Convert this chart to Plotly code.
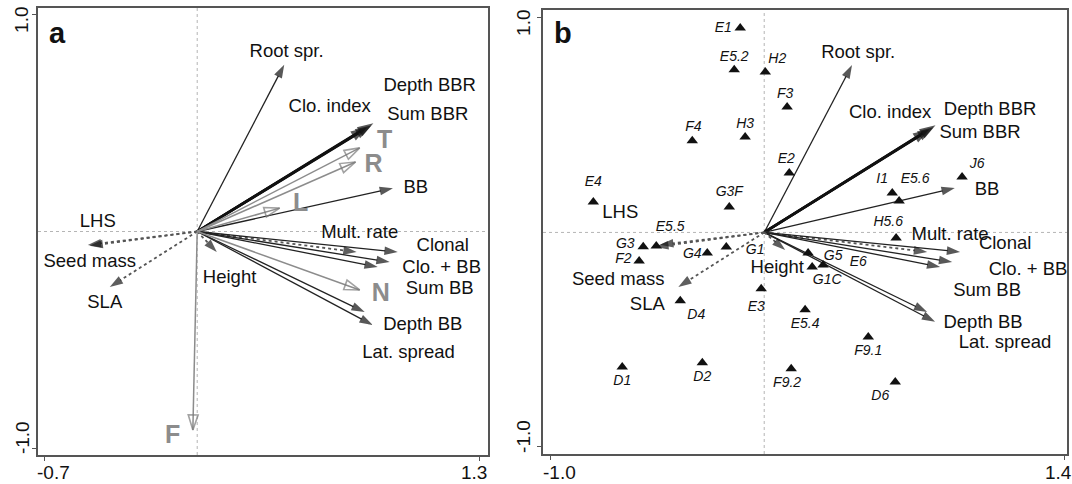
import plotly.graph_objects as go

# ---------------- data ----------------
# Trait vectors (shared names), panel a
trait_names = ["Root spr.", "Depth BBR", "Sum BBR", "Clo. index", "BB", "Mult. rate", "Clonal",
               "Clo. + BB", "Sum BB", "Depth BB", "Lat. spread", "LHS", "Seed mass", "SLA", "Height"]
a_trait_x = [0.40, 0.81, 0.80, 0.78, 0.90, 0.733, 0.922, 0.885, 0.83, 0.770, 0.807, -0.503, -0.495, -0.402, 0.09]
a_trait_y = [0.77, 0.50, 0.49, 0.48, 0.20, -0.095, -0.095, -0.141, -0.164, -0.372, -0.432, -0.062, -0.066, -0.256, -0.095]
a_label_x = [0.411, 1.069, 1.060, 0.609, 1.005, 0.747, 1.129, 1.124, 1.115, 1.037, 0.972, -0.457, -0.494, -0.425, 0.149]
a_label_y = [0.829, 0.672, 0.538, 0.575, 0.201, -0.007, -0.067, -0.169, -0.266, -0.432, -0.561, 0.044, -0.141, -0.330, -0.215]

# Ellenberg indicator vectors, panel a
env_names = ["T", "R", "L", "N", "F"]
env_x = [0.747, 0.728, 0.379, 0.747, -0.02]
env_y = [0.386, 0.321, 0.108, -0.270, -0.917]
env_label_x = [0.862, 0.811, 0.476, 0.844, -0.113]
env_label_y = [0.413, 0.303, 0.122, -0.293, -0.949]

# Trait vectors, panel b
b_trait_x = [0.41, 0.80, 0.79, 0.77, 0.89, 0.761, 0.915, 0.878, 0.822, 0.761, 0.798, -0.486, -0.509, -0.401, 0.098]
b_trait_y = [0.78, 0.50, 0.49, 0.48, 0.207, -0.091, -0.091, -0.138, -0.161, -0.371, -0.417, -0.058, -0.068, -0.254, -0.082]
b_label_x = [0.439, 1.055, 1.008, 0.588, 1.041, 0.868, 1.125, 1.232, 1.041, 1.022, 1.125, -0.672, -0.682, -0.546, 0.061]
b_label_y = [0.837, 0.571, 0.464, 0.557, 0.198, -0.012, -0.058, -0.175, -0.277, -0.425, -0.515, 0.091, -0.222, -0.338, -0.166]

# Habitat (site) scores, panel b
site_names = ["E1", "E5.2", "H2", "F3", "F4", "H3", "E2", "E4", "G3F", "I1", "E5.6", "J6", "H5.6", "E5.5",
              "G3", "F2", "G4", "G1", "E3", "D4", "D1", "D2", "G5", "E6", "G1C", "E5.4", "F9.1", "F9.2", "D6"]
site_x = [-0.112, -0.140, 0.005, 0.107, -0.336, -0.089, 0.117, -0.798, -0.163, 0.598, 0.630, 0.924, 0.616, -0.504,
          -0.565, -0.584, -0.266, -0.177, -0.014, -0.392, -0.663, -0.289, 0.205, 0.224, 0.275, 0.191, 0.486, 0.126, 0.612]
site_y = [0.953, 0.758, 0.748, 0.585, 0.427, 0.445, 0.277, 0.142, 0.119, 0.184, 0.147, 0.259, -0.026, -0.063,
          -0.067, -0.133, -0.096, -0.068, -0.263, -0.319, -0.627, -0.608, -0.096, -0.161, -0.152, -0.361, -0.487, -0.636, -0.697]
site_label_x = [-0.191, -0.140, 0.061, 0.098, -0.331, -0.089, 0.103, -0.798, -0.163, 0.551, 0.705, 0.994, 0.579, -0.439,
                -0.649, -0.658, -0.336, -0.042, -0.037, -0.317, -0.663, -0.289, 0.322, 0.439, 0.294, 0.191, 0.486, 0.107, 0.542]
site_label_y = [0.949, 0.814, 0.804, 0.641, 0.487, 0.501, 0.338, 0.231, 0.184, 0.245, 0.245, 0.315, 0.044, 0.021,
                -0.054, -0.124, -0.105, -0.085, -0.352, -0.389, -0.697, -0.674, -0.114, -0.138, -0.226, -0.431, -0.557, -0.702, -0.767]

# Axis ticks (extreme values only, as in the original)
a_xticks = [-0.7, 1.3]
b_xticks = [-1.0, 1.4]
y_ticks = [-1.0, 1.0]

# ---------------- styles ----------------
thick_traits = {"Depth BBR", "Sum BBR", "Clo. index"}
dotted_traits = {"Mult. rate", "LHS", "Seed mass", "SLA", "Height"}
FONT = "Liberation Sans, Arial, sans-serif"
DARK = "#222222"
GRAY = "#8c8c8c"
W, H = 1072, 484

fig = go.Figure()


def arrow(x, y, xa, ya, color, width, dash, symbol, size, mline=0, head_color=None):
    hc = head_color or color
    fig.add_trace(go.Scatter(
        x=[0, x], y=[0, y], xaxis=xa, yaxis=ya, mode="lines+markers",
        line=dict(color=color, width=width, dash=dash),
        marker=dict(symbol=symbol, size=[0, size], angleref="previous", color=hc,
                    line=dict(color=hc, width=mline)),
        hoverinfo="skip", showlegend=False))


def trait_arrows(xs, ys, xa, ya):
    for n, x, y in zip(trait_names, xs, ys):
        if n in thick_traits:
            arrow(x, y, xa, ya, "#111111", 2.6, "solid", "arrow", 17)
        elif n in dotted_traits:
            arrow(x, y, xa, ya, "#555555", 1.8, "dot", "arrow", 14, head_color="#1a1a1a")
        else:
            arrow(x, y, xa, ya, DARK, 1.3, "solid", "arrow", 14, head_color="#111111")


# zero reference lines
for xa, ya in (("x", "y"), ("x2", "y2")):
    fig.add_shape(type="line", xref=xa, yref=ya + " domain", x0=0, x1=0, y0=0, y1=1,
                  line=dict(color="#b5b5b5", width=1, dash="dot"), layer="below")
    fig.add_shape(type="line", xref=xa + " domain", yref=ya, x0=0, x1=1, y0=0, y1=0,
                  line=dict(color="#b5b5b5", width=1, dash="dot"), layer="below")

# panel a
trait_arrows(a_trait_x, a_trait_y, "x", "y")
for x, y in zip(env_x, env_y):
    arrow(x, y, "x", "y", GRAY, 1.5, "solid", "arrow-open", 16, mline=1.6, head_color="#7a7a7a")
fig.add_trace(go.Scatter(x=a_label_x, y=a_label_y, text=trait_names, mode="text", xaxis="x", yaxis="y",
                         textfont=dict(family=FONT, size=18.5, color="#111"), hoverinfo="skip", showlegend=False))
fig.add_trace(go.Scatter(x=env_label_x, y=env_label_y, text=env_names, mode="text", xaxis="x", yaxis="y",
                         textfont=dict(family=FONT, size=25, color=GRAY, weight="bold"),
                         hoverinfo="skip", showlegend=False))

# panel b
trait_arrows(b_trait_x, b_trait_y, "x2", "y2")
fig.add_trace(go.Scatter(x=site_x, y=site_y, mode="markers", xaxis="x2", yaxis="y2",
                         marker=dict(symbol="triangle-up", size=10, color="#111"),
                         hoverinfo="skip", showlegend=False))
fig.add_trace(go.Scatter(x=b_label_x, y=b_label_y, text=trait_names, mode="text", xaxis="x2", yaxis="y2",
                         textfont=dict(family=FONT, size=18.5, color="#111"), hoverinfo="skip", showlegend=False))
fig.add_trace(go.Scatter(x=site_label_x, y=site_label_y, text=site_names, mode="text", xaxis="x2", yaxis="y2",
                         textfont=dict(family=FONT, size=14, color="#111", style="italic"),
                         hoverinfo="skip", showlegend=False))

# panel letters
fig.add_annotation(text="<b>a</b>", xref="x domain", yref="y domain", x=0.044, y=0.944, showarrow=False,
                   font=dict(family=FONT, size=29, color="#111"), xanchor="center", yanchor="middle")
fig.add_annotation(text="<b>b</b>", xref="x2 domain", yref="y2 domain", x=0.038, y=0.948, showarrow=False,
                   font=dict(family=FONT, size=29, color="#111"), xanchor="center", yanchor="middle")

# tick labels (R places the extreme labels slightly inward)
tick_font = dict(family=FONT, size=19, color="#111")
for xa, ticks in (("x", a_xticks), ("x2", b_xticks)):
    for i, t in enumerate(ticks):
        fig.add_annotation(text=f"{t:.1f}", xref=xa, yref="paper", x=t, y=1 - 472 / H, showarrow=False,
                           font=tick_font, xanchor="center", yanchor="middle", xshift=(9 if i == 0 else -6))
for ya, px in (("y", 22), ("y2", 524)):
    for i, t in enumerate(y_ticks):
        fig.add_annotation(text=f"{t:.1f}", xref="paper", yref=ya, x=px / W, y=t, showarrow=False,
                           font=tick_font, textangle=-90, xanchor="center", yanchor="middle",
                           yshift=(10 if i == 0 else -5))

axis_common = dict(showgrid=False, zeroline=False, showline=True, mirror=True, linecolor="#555",
                   linewidth=1.5, ticks="outside", ticklen=4, tickcolor="#555", automargin=False,
                   showticklabels=False)

fig.update_layout(
    width=W, height=H, margin=dict(l=0, r=0, t=0, b=0),
    paper_bgcolor="white", plot_bgcolor="white",
    xaxis=dict(domain=[38 / W, 488 / W], range=[-0.732, 1.337], tickvals=a_xticks, **axis_common),
    yaxis=dict(domain=[1 - 455 / H, 1 - 8 / H], range=[-1.032, 1.032], tickvals=y_ticks, **axis_common),
    xaxis2=dict(domain=[543 / W, 1067 / W], range=[-1.033, 1.414], tickvals=b_xticks, anchor="y2",
                **axis_common),
    yaxis2=dict(domain=[1 - 454 / H, 1 - 10 / H], range=[-1.033, 1.037], tickvals=y_ticks, anchor="x2",
                **axis_common),
)

fig.write_html("out.html", config={"displayModeBar": False},
               post_script="document.body.style.margin='0';document.body.style.overflow='hidden';")
